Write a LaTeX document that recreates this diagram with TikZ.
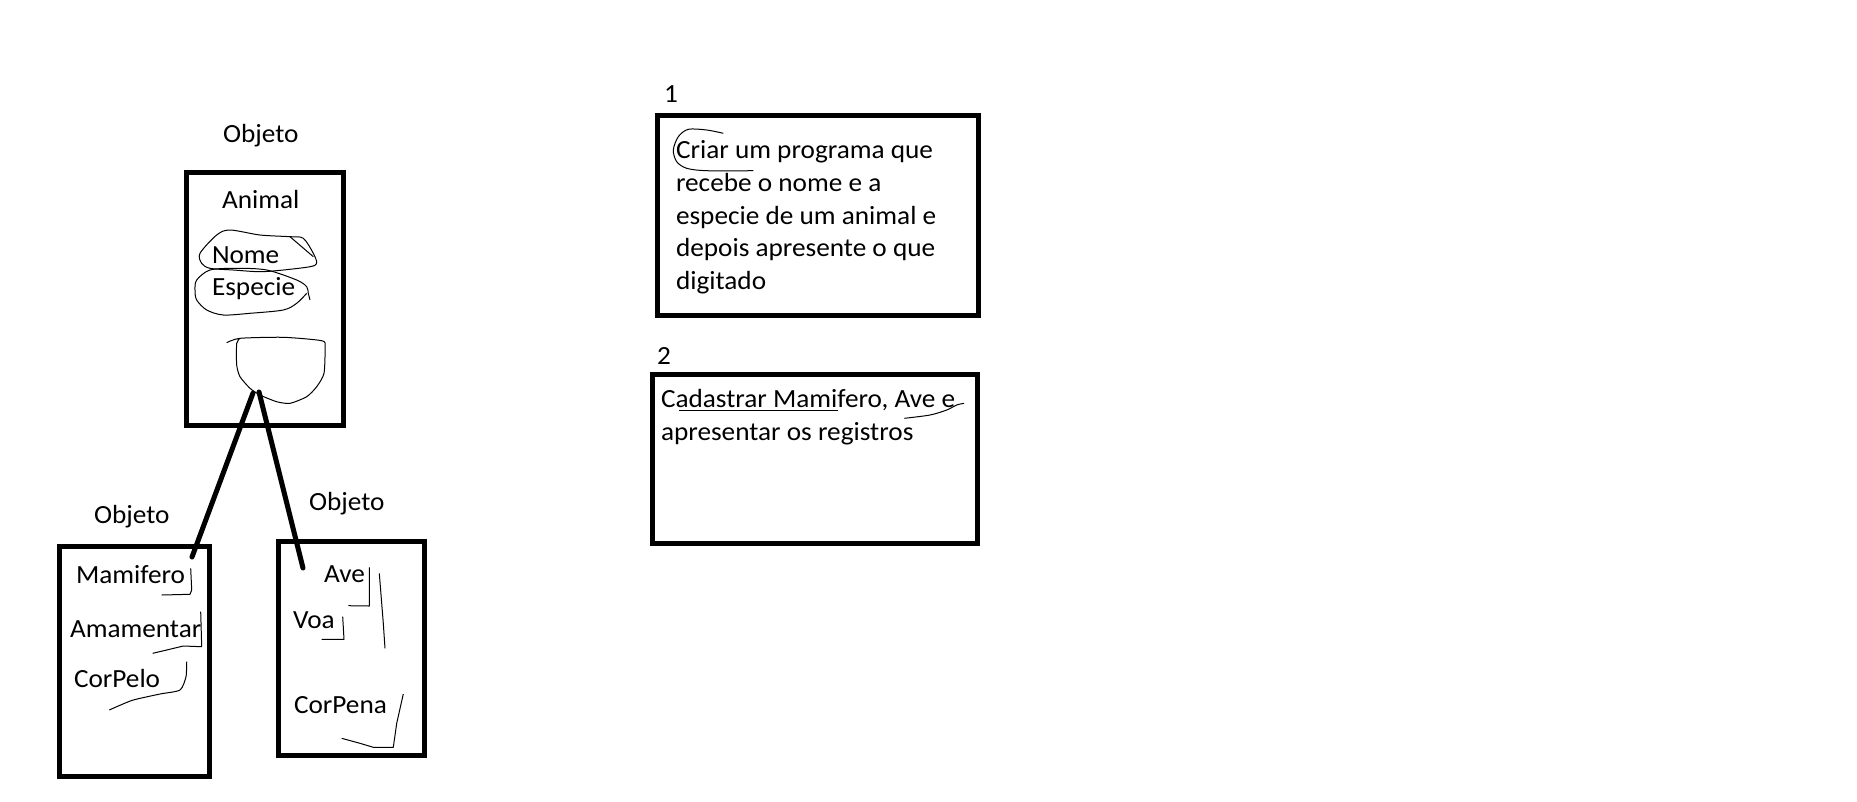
\documentclass[tikz,border=0pt]{standalone}
\usepackage{fontspec}
\setmainfont{Carlito}[FakeStretch=1.04]
\begin{document}
\begin{tikzpicture}[x=1pt,y=-1pt,
  frame/.style={draw=black,line width=5pt,inner sep=0pt,fill=none},
  lbl/.style={anchor=base west,inner sep=0pt,outer sep=0pt,font=\fontsize{26.2}{32.7}\selectfont},
  link/.style={line width=5pt,line cap=round},
  pen/.style={line width=1pt,line join=round}]
\useasboundingbox[fill=white] (0,0) rectangle (1857,801);
% boxes
\node[frame,minimum width=157pt,minimum height=253pt] (animal) at (265,299) {};
\node[frame,minimum width=150pt,minimum height=230pt] (mam) at (134.5,661.5) {};
\node[frame,minimum width=146pt,minimum height=214pt] (ave) at (351.5,648.5) {};
\node[frame,minimum width=321pt,minimum height=200pt] (b1) at (818,215.5) {};
\node[frame,minimum width=325pt,minimum height=169pt] (b2) at (815,459) {};
% labels
\node[lbl] (obj1) at (223,142.5) {Objeto};
\node[lbl] (tanimal) at (222,208) {Animal};
\node[lbl] (tnome) at (212,263) {Nome};
\node[lbl] (tesp) at (212,295) {Especie};
\node[lbl] (obj2) at (94,523) {Objeto};
\node[lbl] (obj3) at (309,510) {Objeto};
\node[lbl] (tmam) at (76,583) {Mamifero};
\node[lbl] (tama) at (70,637) {Amamentar};
\node[lbl] (tcpel) at (74,687) {CorPelo};
\node[lbl] (tave) at (324,582) {Ave};
\node[lbl] (tvoa) at (293,628) {Voa};
\node[lbl] (tcpen) at (294,713) {CorPena};
\node[lbl] (n1) at (664,102) {1};
\node[lbl] (n2) at (657,364) {2};
\node[lbl] (l1a) at (676,158) {Criar um programa que};
\node[lbl] (l1b) at (676,191) {recebe o nome e a};
\node[lbl] (l1c) at (676,224) {especie de um animal e};
\node[lbl] (l1d) at (676,256.5) {depois apresente o que};
\node[lbl] (l1e) at (676,289) {digitado};
\node[lbl] (l2a) at (661,407.3) {Cadastrar Mamifero, Ave e};
\node[lbl] (l2b) at (661,440) {apresentar os registros};
% connectors
\coordinate (apexL) at (253,393);
\coordinate (apexR) at (259,392);
\coordinate (endL) at (192,557);
\coordinate (endR) at (303,568);
\draw[link] (apexL) -- (endL);
\draw[link] (apexR) -- (endR);
% scribbles
\draw[pen] plot[smooth cycle,tension=0.5] coordinates {(200,253.3) (216.7,235) (230,230) (260,235) (290,236.7) (303.3,238.3) (313.3,253.3) (316.7,263.3) (310,266.7) (283.3,270) (260,271.7) (233.3,270) (210,268.3) (201.7,263.3)};
\draw[pen] (290,236.7) -- (313.3,256.7);
\draw[pen] plot[smooth,tension=0.5] coordinates {(310,300) (308.3,293.3) (306.7,286.7) (296.7,280) (266.7,270) (236.7,268.3) (210,270) (196.7,280) (195,290) (196.7,300) (206.7,310) (223.3,315) (250,313.3) (283.3,310) (296.7,303.3) (306.7,293.3)};
\draw[pen] plot[smooth,tension=0.4] coordinates {(226.7,342.7) (240,338.3) (283.3,337.3) (321.7,340.7) (325,346.7) (324,373.3) (316.7,386.7) (306.7,396.7) (290,403.3) (276.7,401.7) (260,395) (250,388.3) (240,376.7) (236.7,365) (236.7,343.3) (240,338.3)};
\draw[pen] (190.7,568.3) -- (191.7,590) -- (190,594.3) -- (161.7,595);
\draw[pen] (200.7,611.7) -- (201.7,646.7) -- (183.3,646) -- (166.7,650) -- (152.7,653.3);
\draw[pen] plot[smooth,tension=0.4] coordinates {(186.7,661.7) (186,676.7) (180,690) (160,694) (133.3,700) (116.7,706.7) (109.3,710)};
\draw[pen] (369.3,567.3) -- (369.3,606) -- (348.3,605.7);
\draw[pen] (379.3,573.3) -- (383.3,623.3) -- (385,648.3);
\draw[pen] (342.7,616.7) -- (344,639.3) -- (321.7,639.3);
\draw[pen] (403.3,694) -- (396.7,723.3) -- (393.3,747.3) -- (373.3,747.3) -- (360,743.3) -- (341.7,738.3);
\draw[pen] plot[smooth,tension=0.5] coordinates {(723.3,133.3) (706.7,130) (688.3,129.3) (678.3,136.7) (673.3,150) (676.7,161.7) (686.7,168.3) (706.7,170.7) (753.3,170.7)};
\draw[pen] (679.3,410.7) -- (838.3,410.7);
\draw[pen] plot[smooth,tension=0.5] coordinates {(904.3,418.3) (930,415) (946.7,410) (956.7,405) (964,403.3)};
\end{tikzpicture}
\end{document}
